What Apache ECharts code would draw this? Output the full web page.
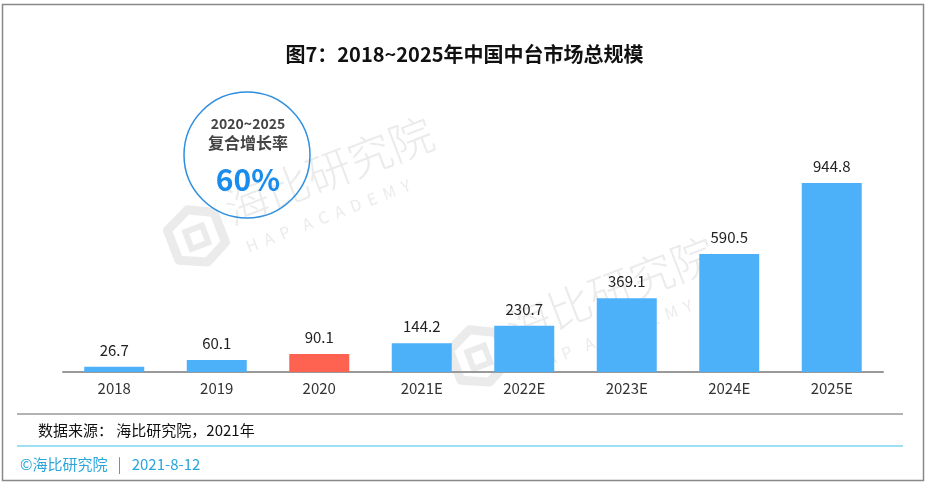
<!DOCTYPE html>
<html><head><meta charset="utf-8">
<script src="https://cdn.jsdelivr.net/npm/echarts@6/dist/echarts.min.js"></script>
<style>html,body{margin:0;padding:0;background:#fff}#c{width:929px;height:485px}</style>
</head><body><div id="c"></div>
<script>
var categories = ['2018','2019','2020','2021E','2022E','2023E','2024E','2025E'];
var values = [26.7, 60.1, 90.1, 144.2, 230.7, 369.1, 590.5, 944.8];
var highlightCategory = '2020';
var titleText = '图7：2018~2025年中国中台市场总规模';
var sourceText = '数据来源： 海比研究院，2021年';
var footerText = '©海比研究院   |   2021-8-12';
var cagrRange = '2020~2025';
var cagrLabel = '复合增长率';
var cagrValue = '60%';

var font = '"Microsoft YaHei","Noto Sans CJK SC","Noto Sans",sans-serif';
var blue = '#4DB1F9', red = '#FE6352';
var wm = 'rgba(200,200,200,0.36)';

function watermark(x, y) {
  return {
    type: 'group', x: x, y: y, rotation: 21 * Math.PI / 180, silent: true, z: 10,
    children: [
      { type: 'text', style: { x: 0, y: 0, text: '海比研究院', font: '300 44px ' + font, fill: wm, textAlign: 'left', textVerticalAlign: 'middle' } },
      { type: 'text', style: { x: 6, y: 42, text: 'H  A  P    A  C  A  D  E  M  Y', font: '16px ' + font, fill: wm, textAlign: 'left', textVerticalAlign: 'middle' } },
      { type: 'polygon', shape: { points: [[-62, -2], [-36, -14], [-12, -2], [-12, 30], [-36, 42], [-62, 30]] }, style: { fill: 'none', stroke: wm, lineWidth: 9, lineJoin: 'round' } },
      { type: 'rect', shape: { x: -46, y: 6, width: 18, height: 18 }, style: { fill: 'none', stroke: wm, lineWidth: 6 } }
    ]
  };
}

var chart = echarts.init(document.getElementById('c'));
chart.setOption({
  animation: false,
  backgroundColor: '#fff',
  title: { text: titleText, left: 'center', top: 39, textStyle: { fontFamily: font, fontSize: 20, fontWeight: 'bold', color: '#111' } },
  grid: { left: 63, right: 46, top: 172, bottom: 113 },
  xAxis: {
    type: 'category', data: categories,
    axisLine: { lineStyle: { color: '#999', width: 2 } },
    axisTick: { show: false },
    axisLabel: { color: '#333', fontSize: 15, fontFamily: font, margin: 9 }
  },
  yAxis: { type: 'value', min: 0, max: 1000, show: false, splitLine: { show: false } },
  series: [{
    type: 'bar', barWidth: 60,
    data: values.map(function (v, i) {
      return { value: v, itemStyle: { color: categories[i] === highlightCategory ? red : blue } };
    }),
    label: { show: true, position: 'top', distance: 9, color: '#222', fontSize: 15, fontFamily: font },
    z: 2
  }],
  graphic: [
    { type: 'rect', shape: { x: 2.5, y: 4.5, width: 921, height: 476 }, style: { fill: 'none', stroke: '#888', lineWidth: 1.5 }, silent: true },
    { type: 'circle', shape: { cx: 247, cy: 155, r: 63 }, style: { fill: 'none', stroke: '#2E8FE0', lineWidth: 1.5 }, z: 5 },
    { type: 'text', style: { x: 248, y: 124, text: cagrRange, font: 'bold 14px ' + font, fill: '#444', textAlign: 'center', textVerticalAlign: 'middle' }, z: 6 },
    { type: 'text', style: { x: 248, y: 143, text: cagrLabel, font: 'bold 16px ' + font, fill: '#444', textAlign: 'center', textVerticalAlign: 'middle' }, z: 6 },
    { type: 'text', style: { x: 248, y: 180, text: cagrValue, font: 'bold 30px ' + font, fill: '#1A8CEB', textAlign: 'center', textVerticalAlign: 'middle' }, z: 6 },
    watermark(226, 210),
    watermark(508, 330),
    { type: 'line', shape: { x1: 17, y1: 414, x2: 903, y2: 414 }, style: { stroke: '#666', lineWidth: 1 } },
    { type: 'text', style: { x: 38, y: 430, text: sourceText, font: '15px ' + font, fill: '#111', textVerticalAlign: 'middle' } },
    { type: 'line', shape: { x1: 17, y1: 446, x2: 903, y2: 446 }, style: { stroke: '#3FC1E6', lineWidth: 1 } },
    { type: 'text', style: { x: 20, y: 464, text: footerText, font: '15px ' + font, fill: '#2AA6DB', textVerticalAlign: 'middle' } }
  ]
});
</script></body></html>
